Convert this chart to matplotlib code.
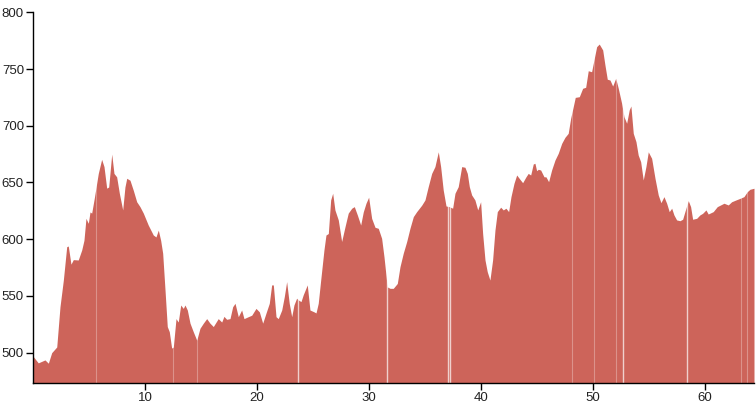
import matplotlib
matplotlib.use("Agg")
import matplotlib.pyplot as plt

# distance along the route (km) and elevation (m)
dist = [0.03, 0.47, 1.07, 1.37, 1.67, 2.12, 2.41, 2.71, 3.01, 3.15, 3.39, 3.60, 4.04, 4.35,
        4.55, 4.73, 4.94, 5.09, 5.24, 5.47, 5.83, 6.13, 6.34, 6.58, 6.76, 7.03, 7.23, 7.47,
        7.71, 8.01, 8.21, 8.37, 8.66, 8.96, 9.26, 9.55, 9.85, 10.29, 10.74, 10.98, 11.19,
        11.40, 11.58, 11.79, 11.99, 12.17, 12.38, 12.53, 12.77, 12.97,
        13.19, 13.42, 13.57, 13.78, 14.02, 14.31, 14.62, 14.91, 15.21, 15.51, 15.80, 16.10,
        16.54, 16.85, 17.05, 17.29, 17.59, 17.83, 18.04, 18.33, 18.63, 18.84, 19.22, 19.53,
        19.91, 20.21, 20.51, 20.80, 21.10, 21.31, 21.46, 21.70, 21.90, 22.21, 22.44, 22.65,
        22.88, 23.10, 23.30, 23.54, 23.69, 23.93, 24.13, 24.49, 24.73, 25.09,
        25.27, 25.47, 25.69, 25.98, 26.16, 26.37, 26.58, 26.76, 26.96, 27.26, 27.56, 27.86,
        28.15, 28.46, 28.69, 28.96, 29.26, 29.49, 29.73, 29.97, 30.24, 30.54, 30.83, 31.13,
        31.34, 31.63, 31.88, 32.17, 32.53, 32.77, 33.06, 33.37, 33.66, 33.96, 34.26, 34.71,
        35.00, 35.29, 35.60, 35.89, 36.19, 36.40, 36.63, 36.88, 37.17, 37.47, 37.68, 37.97,
        38.28, 38.57, 38.78, 38.96, 39.17, 39.46, 39.71, 39.97, 40.15, 40.36, 40.56, 40.80,
        41.04, 41.25, 41.46, 41.76, 41.99, 42.23, 42.47, 42.68, 42.95, 43.19, 43.48, 43.72,
        44.02, 44.22, 44.44, 44.67, 44.82, 44.97, 45.12, 45.33, 45.63, 45.80, 46.04, 46.31,
        46.61, 46.90, 47.21, 47.50, 47.79, 48.01, 48.24, 48.42, 48.78, 49.08, 49.35, 49.58,
        49.88, 50.09, 50.33, 50.56,
        50.87, 51.07, 51.28, 51.52, 51.76, 52.03, 52.26, 52.56, 52.77, 53.01, 53.24, 53.39,
        53.60, 53.84, 54.04, 54.26, 54.49, 54.73, 54.94, 55.24, 55.54, 55.83, 56.07, 56.34,
        56.58, 56.81, 57.03, 57.23, 57.47, 57.77, 58.01, 58.21, 58.51, 58.72, 58.90, 59.26,
        59.55, 59.79, 60.09, 60.29, 60.74, 61.10, 61.40, 61.70, 62.08, 62.38, 62.77, 63.13,
        63.48, 63.78, 64.02, 64.38]

elev = [496.5, 491, 493.6, 490.7, 500, 505, 540.5, 564, 593.4, 594, 578, 582, 581.7, 590.5,
        599, 618.4, 614, 624, 623, 636, 658, 670.4, 664, 645, 646, 675, 658, 655,
        640.5, 625.8, 646, 653.7, 652, 643, 633, 628.7, 623, 612.5, 603.7, 602, 608,
        599, 587.6, 555, 523, 518.5, 504, 505, 530, 527,
        542, 539, 542, 537.6, 526, 518.5, 511, 521.5, 526, 530, 526, 523,
        530, 527, 532, 529.4, 530, 540.5, 543.5, 531.7, 537.6, 530, 531.7, 533,
        539, 536, 526, 534.7, 543.5, 559.7, 559.7, 531.7, 530, 537.6, 549.4, 562.6,
        543.5, 531.7, 542, 548, 546.5, 545, 551, 559.7, 537.6, 536,
        535, 543.5, 564, 590.5, 603.7, 605, 634.6, 640.5, 625.8, 617, 598, 611,
        623, 627.3, 628.7, 621.4, 612.5, 624, 631.6, 637, 618.4, 610.5, 609.6, 600.8,
        584.6, 558, 556.7, 556.7, 561, 575.8, 587.6, 598, 609.6, 619.9, 624.3, 630,
        634.6, 646.3, 658, 664, 677, 664, 643.4, 629.3, 628.7, 627.3, 640.5, 646.3,
        664, 663.4, 658, 646.3, 639, 634.6, 625.8, 633, 605, 581.7, 571.4, 564,
        581.7, 608, 624.3, 628.2, 625.8, 627.3, 624.3, 637.5, 649.3, 656.6, 652.8, 649.8,
        655, 658, 656.6, 666.3, 666.9, 660.4, 661.6, 661, 655, 655, 650.7, 661,
        669.8, 675.7, 684.5, 689.8, 693.3, 706.6, 716.8, 725, 725.6, 733, 733.9, 748.5,
        747.6, 758, 769.7, 772,
        766.8, 753.6, 741, 740.3, 735, 741.8, 733, 719.8, 708, 702.2, 714, 717.4,
        693.3, 686, 674.2, 668.3, 652.2, 664, 677, 671.3, 653.7, 639, 632.2, 637.5,
        631.7, 624.3, 627.3, 621.4, 617, 616.3, 617.6, 624.3, 634, 628.7, 617.6, 618.4,
        621.4, 622.8, 625.8, 622.2, 624.3, 628.7, 630.2, 631.7, 630.2, 633, 634.6, 636,
        637.5, 641.9, 644, 644.9]

# thin seams in the area where the segments don't join
gaps_strong = [23.63, 31.58, 37.03, 37.23, 52.65, 58.37]
gaps_faint = [5.60, 12.53, 14.67, 48.10, 50.09, 52.03, 63.19, 63.78]

x_ticks = [10, 20, 30, 40, 50, 60]
y_ticks = [500, 550, 600, 650, 700, 750, 800]

plt.rcParams['font.family'] = ['Liberation Sans', 'DejaVu Sans']

fig = plt.figure(figsize=(7.56, 4.05), dpi=100)
ax = fig.add_axes([33 / 756, (405 - 383.3) / 405, (754 - 33) / 756, (383.3 - 12.3) / 405])

y_min = 473
ax.fill_between(dist, elev, y_min, color='#cd645a', linewidth=0)
for g in gaps_strong:
    ax.axvline(g, color='white', linewidth=1.0, alpha=0.7)
for g in gaps_faint:
    ax.axvline(g, color='white', linewidth=0.8, alpha=0.3)

ax.set_xlim(0, 64.38)
ax.set_ylim(y_min, 800)
ax.set_xticks(x_ticks)
ax.set_yticks(y_ticks)

for side in ['top', 'right']:
    ax.spines[side].set_visible(False)
for side in ['left', 'bottom']:
    ax.spines[side].set_color('black')
    ax.spines[side].set_linewidth(1)
ax.tick_params(length=5, width=1, color='black', labelsize=9.5, labelcolor='#222222', pad=1.5)

fig.savefig('out.png', dpi=100)
